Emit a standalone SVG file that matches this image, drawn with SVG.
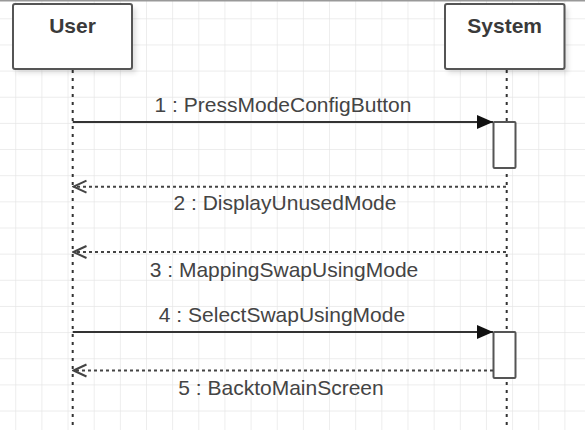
<svg xmlns="http://www.w3.org/2000/svg" width="585" height="430" viewBox="0 0 585 430">
  <style>
    .box{fill:#fff;stroke:#555;stroke-width:2}
    .title{font-family:"Liberation Sans",Arial,sans-serif;font-size:21px;font-weight:bold;fill:#3a3a3a;text-anchor:middle}
    .lbl{font-family:"Liberation Sans",Arial,sans-serif;font-size:21px;fill:#444;text-anchor:middle}
    .life{stroke:#333;stroke-width:2;stroke-dasharray:3 5;fill:none}
    .sync{stroke:#333;stroke-width:2.2;fill:none}
    .ret{stroke:#444;stroke-width:2;stroke-dasharray:3 3;fill:none}
    .act{fill:#fff;stroke:#555;stroke-width:2}
  </style>
  <defs>
    <pattern id="grid" patternUnits="userSpaceOnUse" x="15.25" y="18.3" width="26.15" height="26.15">
      <path d="M0,0 H26.15 M0,0 V26.15" stroke="#e6e6e6" stroke-width="1.4" fill="none"/>
    </pattern>
    <filter id="shadow" x="-20%" y="-20%" width="140%" height="160%">
      <feGaussianBlur stdDeviation="2.5"/>
    </filter>
    <marker id="filled" markerUnits="userSpaceOnUse" markerWidth="18" markerHeight="16" refX="16" refY="7.5" orient="auto">
      <path d="M0,0.5 L16,7.5 L0,14.5 z" fill="#111"/>
    </marker>
    <marker id="open" markerUnits="userSpaceOnUse" markerWidth="16" markerHeight="16" refX="14" refY="7" orient="auto">
      <path d="M1,1 L14,7 L1,13" fill="none" stroke="#444" stroke-width="2"/>
    </marker>
  </defs>
  <rect width="585" height="430" fill="#fff"/>
  <rect width="585" height="430" fill="url(#grid)"/>
  <line x1="0" y1="0.75" x2="585" y2="0.75" stroke="#999" stroke-width="1.5"/>

  <g id="lifelines">
    <line class="life" x1="72.7" y1="70" x2="72.7" y2="430"/>
    <line class="life" x1="506.7" y1="70" x2="506.7" y2="430"/>
  </g>

  <g id="user">
    <rect x="16" y="8" width="120" height="65" fill="#000" opacity="0.12" filter="url(#shadow)"/>
    <rect class="box" x="13" y="4" width="119" height="65" rx="2"/>
    <text class="title" x="72.5" y="33">User</text>
  </g>
  <g id="system">
    <rect x="448" y="8" width="120" height="65" fill="#000" opacity="0.12" filter="url(#shadow)"/>
    <rect class="box" x="445" y="4" width="119.5" height="65" rx="2"/>
    <text class="title" x="504.7" y="33">System</text>
  </g>

  <g id="activation1">
    <rect class="act" x="493.5" y="122" width="22" height="46" rx="1"/>
  </g>
  <g id="activation2">
    <rect class="act" x="493.5" y="332" width="22" height="46" rx="1"/>
  </g>

  <g id="connectors">
    <line class="sync" x1="72.7" y1="122" x2="493" y2="122" marker-end="url(#filled)"/>
    <line class="ret" x1="506" y1="186.7" x2="73.5" y2="186.7" marker-end="url(#open)"/>
    <line class="ret" x1="506" y1="252" x2="73.5" y2="252" marker-end="url(#open)"/>
    <line class="sync" x1="72.7" y1="332" x2="493" y2="332" marker-end="url(#filled)"/>
    <line class="ret" x1="493" y1="370.5" x2="73.5" y2="370.5" marker-end="url(#open)"/>
  </g>

  <g id="labels">
    <text class="lbl" x="283" y="112">1 : PressModeConfigButton</text>
    <text class="lbl" x="285" y="210">2 : DisplayUnusedMode</text>
    <text class="lbl" x="284" y="276.5">3 : MappingSwapUsingMode</text>
    <text class="lbl" x="282" y="321.5">4 : SelectSwapUsingMode</text>
    <text class="lbl" x="281" y="395">5 : BacktoMainScreen</text>
  </g>
</svg>
